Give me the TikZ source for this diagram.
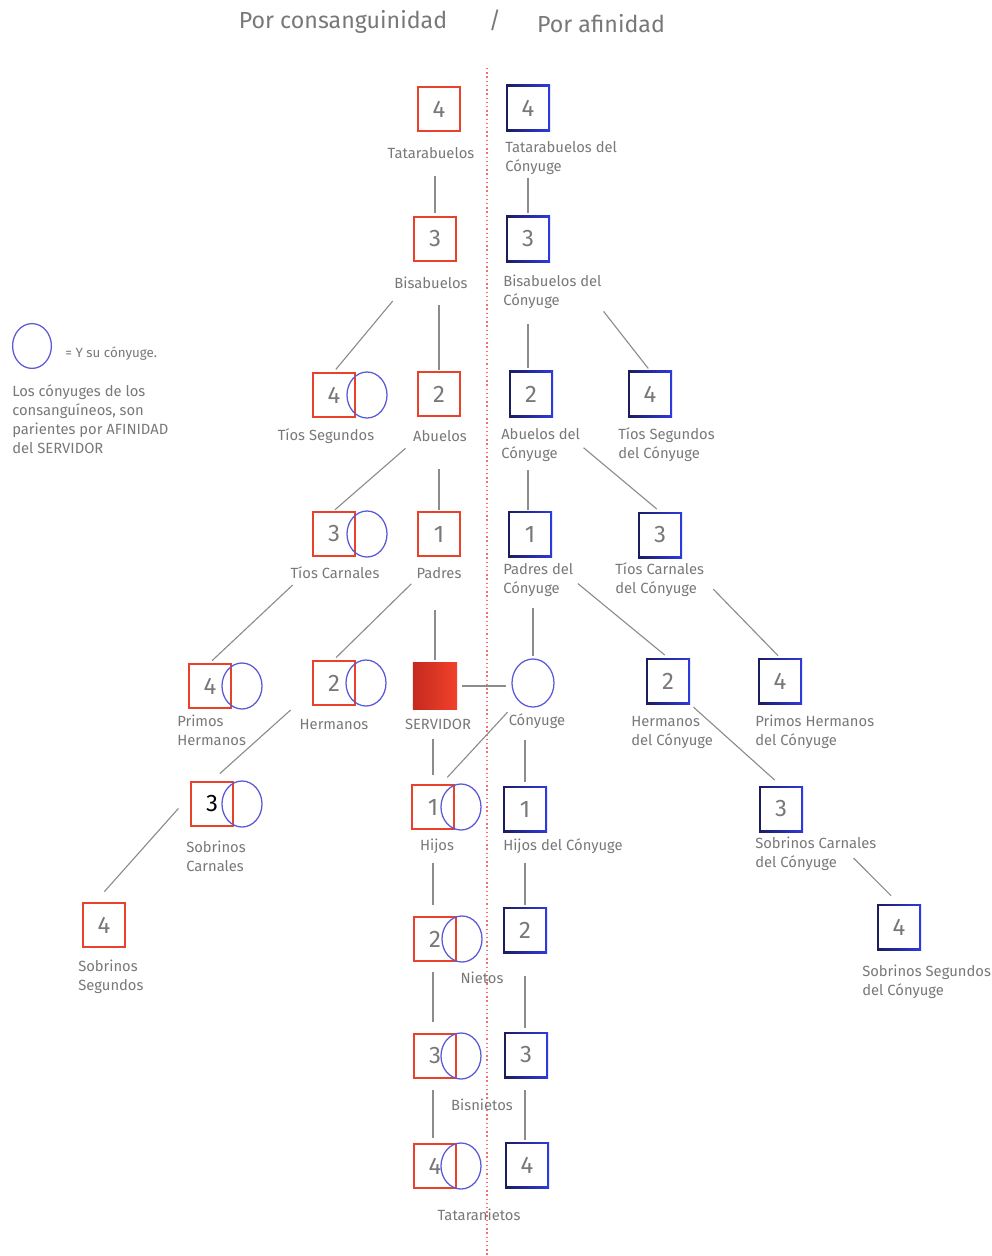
\documentclass[tikz,border=0pt]{standalone}
\usepackage{fontspec}
\setmainfont{Fira Sans}
\usepackage{tikz}
\usetikzlibrary{shapes.geometric,calc}

\definecolor{redline}{HTML}{E8412C}
\definecolor{navyline}{HTML}{1C1C5E}
\definecolor{blueline}{HTML}{2D3BE0}
\definecolor{spouseline}{HTML}{5A5AD8}
\definecolor{txtgray}{HTML}{787878}
\definecolor{edgegray}{HTML}{8C8C8C}
\definecolor{srvdark}{HTML}{C42A1E}
\definecolor{srvbright}{HTML}{F2412B}
\definecolor{dotred}{HTML}{F07070}

\begin{document}
\begin{tikzpicture}[x=0.025cm, y=-0.025cm,
red_box/.style={draw=redline, line width=1.4pt, minimum width=1.07cm, minimum height=1.12cm, inner sep=0pt, font=\fontsize{17}{17}\selectfont, text=txtgray},
blue_box/.style={minimum width=1.1cm, minimum height=1.15cm, inner sep=0pt, left color=navyline, right color=blueline, font=\fontsize{17}{17}\selectfont, text=txtgray,
  path picture={\fill[white] ([shift={(1.4pt,-1.4pt)}]path picture bounding box.north west) rectangle ([shift={(-1.4pt,1.4pt)}]path picture bounding box.south east);}},
srv_box/.style={minimum width=1.1cm, minimum height=1.17cm, inner sep=0pt, left color=srvdark, right color=srvbright},
spouse_style/.style={ellipse, draw=spouseline, line width=0.9pt, minimum width=1.0cm, minimum height=1.15cm, inner sep=0pt},
label_style/.style={text=txtgray, font=\fontsize{10.5}{13.5}\selectfont, inner sep=0pt, align=left},
title_style/.style={text=txtgray, font=\fontsize{16.5}{20}\selectfont, inner sep=0pt},
edge_style/.style={draw=edgegray, line width=0.8pt, shorten >=2pt}]
\useasboundingbox (0,0) rectangle (992,1256);

% titles
\node[title_style] (t_con) at (343,22) {Por consanguinidad};
\node[title_style] (t_sep) at (495,20) {/};
\node[title_style] (t_afi) at (601,24) {Por afinidad};

% divider
\coordinate (div_top) at (487,68);
\coordinate (div_bot) at (487,1256);
\draw[dotred, dotted, line width=1pt] (div_top) -- (div_bot);

% legend
\node[spouse_style, minimum width=0.97cm, minimum height=1.12cm] (leg_c) at (32,346) {};
\node[label_style, anchor=west, font=\fontsize{9.5}{13}\selectfont] (leg_t) at (65,354) {= Y su cónyuge.};
\node[label_style, anchor=north west] (leg_p) at (12,384) {Los cónyuges de los\\consanguíneos, son\\parientes por AFINIDAD\\del SERVIDOR};

% consanguinidad
\node[red_box] (tat) at (439,109) {4};
\node[label_style] (tat_l) at (431,153) {Tatarabuelos};
\node[red_box] (bis) at (435,239) {3};
\node[label_style] (bis_l) at (431,283) {Bisabuelos};
\node[red_box] (tsg) at (334,395) {4};
\node[spouse_style] (tsg_c) at (367,395) {};
\node[label_style] (tsg_l) at (326,436) {Tíos Segundos};
\node[red_box] (abu) at (439,394) {2};
\node[label_style] (abu_l) at (440,436) {Abuelos};
\node[red_box] (tca) at (334,534) {3};
\node[spouse_style] (tca_c) at (367,534) {};
\node[label_style] (tca_l) at (335,573) {Tíos Carnales};
\node[red_box] (pad) at (439,534) {1};
\node[label_style] (pad_l) at (439,573) {Padres};
\node[red_box] (phe) at (210,686) {4};
\node[spouse_style] (phe_c) at (242,686) {};
\node[label_style, anchor=west] (phe_l) at (177,730) {Primos\\Hermanos};
\node[red_box] (her) at (334,683) {2};
\node[spouse_style] (her_c) at (366,683) {};
\node[label_style] (her_l) at (334,724) {Hermanos};
\node[srv_box] (srv) at (435,686) {};
\node[label_style] (srv_l) at (438,724) {SERVIDOR};
\node[spouse_style, minimum width=1.05cm, minimum height=1.2cm] (cony) at (533,683) {};
\node[label_style] (cony_l) at (537,721) {Cónyuge};
\node[red_box, text=black] (sca) at (212,804) {3};
\node[spouse_style] (sca_c) at (242,804) {};
\node[label_style, anchor=west] (sca_l) at (186,856) {Sobrinos\\Carnales};
\node[red_box] (sse) at (104,925) {4};
\node[label_style, anchor=west] (sse_l) at (78,977) {Sobrinos\\Segundos};
\node[red_box] (hij) at (433,807) {1};
\node[spouse_style] (hij_c) at (461,807) {};
\node[label_style] (hij_l) at (437,846) {Hijos};
\node[red_box] (nie) at (435,939) {2};
\node[spouse_style] (nie_c) at (462,939) {};
\node[label_style] (nie_l) at (482,978) {Nietos};
\node[red_box] (bisn) at (435,1056) {3};
\node[spouse_style] (bisn_c) at (461,1056) {};
\node[label_style] (bisn_l) at (482,1105) {Bisnietos};
\node[red_box] (ttn) at (435,1166) {4};
\node[spouse_style] (ttn_c) at (461,1166) {};
\node[label_style] (ttn_l) at (479,1215) {Tataranietos};

% afinidad
\node[blue_box] (tat_r) at (528,108) {4};
\node[label_style, anchor=west] (tat_r_l) at (505,158) {Tatarabuelos del\\Cónyuge};
\node[blue_box] (bis_r) at (528,239) {3};
\node[label_style, anchor=west] (bis_r_l) at (503,292) {Bisabuelos del\\Cónyuge};
\node[blue_box] (abu_r) at (531,394) {2};
\node[label_style, anchor=west] (abu_r_l) at (501,445) {Abuelos del\\Cónyuge};
\node[blue_box] (tsg_r) at (650,394) {4};
\node[label_style, anchor=west] (tsg_r_l) at (618,445) {Tíos Segundos\\del Cónyuge};
\node[blue_box] (pad_r) at (530,534) {1};
\node[label_style, anchor=west] (pad_r_l) at (503,580) {Padres del\\Cónyuge};
\node[blue_box] (tca_r) at (660,535) {3};
\node[label_style, anchor=west] (tca_r_l) at (615,580) {Tíos Carnales\\del Cónyuge};
\node[blue_box] (her_r) at (668,681) {2};
\node[label_style, anchor=west] (her_r_l) at (631,732) {Hermanos\\del Cónyuge};
\node[blue_box] (phe_r) at (780,681) {4};
\node[label_style, anchor=west] (phe_r_l) at (755,732) {Primos Hermanos\\del Cónyuge};
\node[blue_box] (hij_r) at (525,809) {1};
\node[label_style, anchor=west] (hij_r_l) at (503,846) {Hijos del Cónyuge};
\node[blue_box] (sca_r) at (781,809) {3};
\node[label_style, anchor=west] (sca_r_l) at (755,854) {Sobrinos Carnales\\del Cónyuge};
\node[blue_box] (sse_r) at (899,927) {4};
\node[label_style, anchor=west] (sse_r_l) at (862,982) {Sobrinos Segundos\\del Cónyuge};
\node[blue_box] (nie_r) at (525,930) {2};
\node[blue_box] (bisn_r) at (526,1055) {3};
\node[blue_box] (ttn_r) at (527,1165) {4};

% lineas consanguinidad
\draw[edge_style, shorten <=12.5pt] (bis |- tat_l.south) -- (bis.north);
\draw[edge_style, shorten <=11pt, shorten >=0.5pt] (abu |- bis_l.south) -- (abu.north);
\draw[edge_style, shorten <=11pt] ([xshift=6pt]bis_l.south west) -- (tsg.north);
\draw[edge_style, shorten <=7pt, shorten >=1pt] (abu_l.south west) -- (tca.north);
\draw[edge_style, shorten <=6pt] ([xshift=6pt]tca_l.south west) -- (phe.north);
\draw[edge_style, shorten <=5pt] (pad_l.south west) -- (her.north);
\draw[edge_style, shorten <=19pt, shorten >=0.5pt] (pad |- abu_l.south) -- (pad.north);
\draw[edge_style, shorten <=22pt, shorten >=1.5pt] (srv |- pad_l.south) -- (srv.north);
\draw[edge_style, shorten <=3.5pt, shorten >=4pt] (srv.east) -- (srv.east -| cony.west);
\draw[edge_style, shorten <=20pt, shorten >=7.5pt] (her.200) -- (sca.north);
\draw[edge_style, shorten <=12pt, shorten >=9.5pt] (sca.160) -- (sse.110);
\draw[edge_style, shorten <=6.4pt, shorten >=6.4pt] (hij |- srv_l.south) -- (hij.north);
\draw[edge_style, shorten <=11pt, shorten >=6pt] (cony.230) -- (hij.70);
\draw[edge_style, shorten <=6.4pt, shorten >=7.8pt] (hij |- hij_l.south) -- (hij |- nie.north);
\draw[edge_style, shorten <=7pt, shorten >=7.8pt] (hij |- nie.south) -- (hij |- bisn.north);
\draw[edge_style, shorten <=7.8pt, shorten >=3.5pt] (hij |- bisn.south) -- (hij |- ttn.north);

% lineas afinidad
\draw[edge_style, shorten <=2pt] (bis_r |- tat_r_l.south) -- (bis_r.north);
\draw[edge_style, shorten <=10.6pt] (bis_r |- bis_r_l.south) -- (bis_r |- abu_r.north);
\draw[edge_style, shorten <=2pt] (bis_r_l.south east) -- (tsg_r.north);
\draw[edge_style, shorten <=5.7pt, shorten >=0.5pt] (bis_r |- abu_r_l.south) -- (bis_r |- pad_r.north);
\draw[edge_style, shorten <=3pt, shorten >=3pt] (abu_r_l.east) -- (tca_r.north);
\draw[edge_style, shorten <=8pt, shorten >=1.5pt] (cony |- pad_r_l.south) -- (cony.north);
\draw[edge_style, shorten <=4pt, shorten >=3pt] (pad_r_l.east) -- (her_r.north);
\draw[edge_style, shorten <=9pt, shorten >=2pt] (tca_r_l.east) -- (phe_r.north);
\draw[edge_style, shorten <=8pt, shorten >=3pt] (hij_r |- cony_l.south) -- (hij_r.north);
\draw[edge_style, shorten <=3pt, shorten >=6pt] (her_r.south east) -- (sca_r.north);
\draw[edge_style, shorten >=8pt] ($(sca_r_l.east)+(-23,4)$) -- (sse_r.north);
\draw[edge_style, shorten <=6.4pt, shorten >=1.4pt] (hij_r |- hij_r_l.south) -- (nie_r.north);
\draw[edge_style, shorten <=16pt, shorten >=3pt] (nie_r.south) -- (nie_r |- bisn_r.north);
\draw[edge_style, shorten <=8.5pt, shorten >=1.4pt] (nie_r |- bisn_r.south) -- (nie_r |- ttn_r.north);

\end{tikzpicture}
\end{document}
